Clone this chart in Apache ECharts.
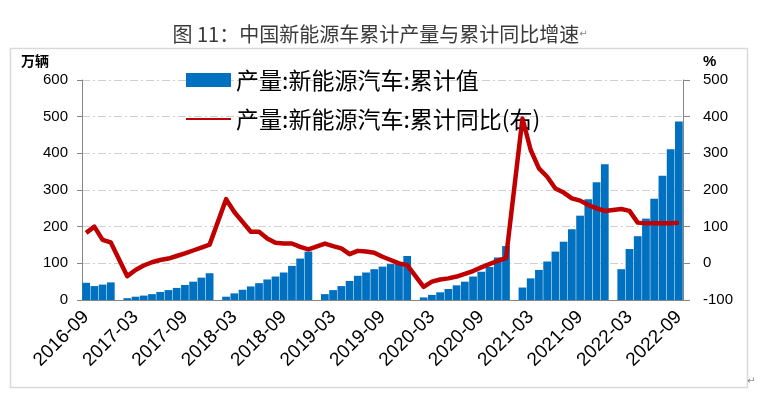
<!DOCTYPE html>
<html>
<head>
<meta charset="utf-8">
<script src="https://cdn.jsdelivr.net/npm/echarts@6.0.0/dist/echarts.min.js"></script>
<style>
  body { margin: 0; background: #fff; }
  #myChart { width: 760px; height: 397px; }
</style>
</head>
<body>
<div id="myChart"></div>
<script>
// months, January has no data (Jan-Feb reported together)
var months = [
  '2016-09','2016-10','2016-11','2016-12',
  '2017-01','2017-02','2017-03','2017-04','2017-05','2017-06','2017-07','2017-08','2017-09','2017-10','2017-11','2017-12',
  '2018-01','2018-02','2018-03','2018-04','2018-05','2018-06','2018-07','2018-08','2018-09','2018-10','2018-11','2018-12',
  '2019-01','2019-02','2019-03','2019-04','2019-05','2019-06','2019-07','2019-08','2019-09','2019-10','2019-11','2019-12',
  '2020-01','2020-02','2020-03','2020-04','2020-05','2020-06','2020-07','2020-08','2020-09','2020-10','2020-11','2020-12',
  '2021-01','2021-02','2021-03','2021-04','2021-05','2021-06','2021-07','2021-08','2021-09','2021-10','2021-11','2021-12',
  '2022-01','2022-02','2022-03','2022-04','2022-05','2022-06','2022-07','2022-08','2022-09'
];

// 产量:新能源汽车:累计值 (万辆)
var output = [
  47, 38, 42, 48,
  null, 5, 9, 12, 16, 22, 27, 33, 41, 50, 61, 73,
  null, 9, 18, 28, 37, 46, 56, 64, 75, 93, 113, 132,
  null, 16, 27, 38, 52, 66, 75, 84, 91, 98, 103, 120,
  null, 7, 14, 21, 30, 40, 50, 64, 77, 90, 116, 147,
  null, 34, 59, 82, 105, 132, 159, 193, 230, 275, 321, 370,
  null, 84, 139, 174, 222, 276, 339, 411, 487
];

// 产量:新能源汽车:累计同比 (%)
var yoy = [
  83, 100, 64, 57,
  null, -35, -18, -6, 3, 9, 13, 20, 27, 35, 43, 51,
  null, 175, 140, 113, 86, 86, 68, 56, 54, 54, 45, 38,
  null, 54, 47, 41, 25, 34, 32, 29, 18, 9, 0, -5,
  null, -64, -50, -44, -41, -36, -29, -21, -11, -2, 7, 14,
  null, 395, 309, 259, 236, 204, 193, 177, 171, 159, 150, 143,
  null, 148, 143, 111, 109, 109, 109, 109, 111
];

var gridLine = { color: '#d0d0d0', width: 1, type: [8, 3, 2, 3] };
var axisGray = '#868686';

var options = {
  backgroundColor: '#fff',
  animation: false,
  title: {
    text: '图 11：中国新能源车累计产量与累计同比增速{r|↵}',
    left: 'center',
    top: 19,
    textStyle: {
      fontFamily: 'Noto Sans CJK SC',
      fontSize: 20,
      fontWeight: 'normal',
      color: '#3a3a3a',
      rich: { r: { fontSize: 10, color: '#888', fontFamily: 'DejaVu Sans' } }
    }
  },
  graphic: [
    { type: 'rect', left: 8, top: 46, shape: { width: 737, height: 339 },
      style: { fill: 'none', stroke: '#d9d9d9', lineWidth: 1.5 } },
    { type: 'text', left: 21, top: 54,
      style: { text: '万辆', font: 'bold 14px "Noto Sans CJK SC"', fill: '#000' } },
    { type: 'text', left: 703, top: 54,
      style: { text: '%', font: 'bold 15px "Liberation Sans"', fill: '#000' } },
    { type: 'text', left: 747, top: 376,
      style: { text: '↵', font: '10px "DejaVu Sans"', fill: '#888' } }
  ],
  legend: {
    orient: 'vertical',
    left: 185,
    top: 67,
    padding: 0,
    itemWidth: 45,
    itemHeight: 14,
    itemGap: 13,
    textStyle: {
      fontFamily: 'Noto Sans CJK SC',
      fontSize: 23,
      lineHeight: 26,
      color: '#000'
    },
    data: [
      { name: '产量:新能源汽车:累计值', icon: 'rect' },
      { name: '产量:新能源汽车:累计同比(右)', itemStyle: { opacity: 0 } }
    ]
  },
  grid: { left: 82, right: 77, top: 80, bottom: 97, containLabel: false },
  xAxis: {
    type: 'category',
    data: months,
    boundaryGap: true,
    axisLine: { lineStyle: { color: axisGray } },
    axisTick: { interval: 5, length: 5, lineStyle: { color: axisGray } },
    axisLabel: {
      interval: 5,
      rotate: 45,
      margin: 14,
      fontFamily: 'Liberation Sans',
      fontSize: 19,
      color: '#000'
    }
  },
  yAxis: [
    {
      type: 'value',
      min: 0, max: 600, interval: 100,
      axisLine: { show: true, lineStyle: { color: axisGray } },
      axisTick: { show: true, length: 5, lineStyle: { color: axisGray } },
      axisLabel: { margin: 14, fontFamily: 'Liberation Sans', fontSize: 15, color: '#000' },
      splitLine: { lineStyle: gridLine }
    },
    {
      type: 'value',
      min: -100, max: 500, interval: 100,
      axisLine: { show: true, lineStyle: { color: axisGray } },
      axisTick: { show: true, length: 7, lineStyle: { color: axisGray } },
      axisLabel: { margin: 20, fontFamily: 'Liberation Sans', fontSize: 15, color: '#000' },
      splitLine: { show: false }
    }
  ],
  series: [
    {
      name: '产量:新能源汽车:累计值',
      type: 'bar',
      data: output,
      barCategoryGap: '6%',
      itemStyle: { color: '#0070c0' }
    },
    {
      name: '产量:新能源汽车:累计同比(右)',
      type: 'line',
      yAxisIndex: 1,
      data: yoy,
      connectNulls: true,
      symbol: 'none',
      lineStyle: { color: '#c00000', width: 4.5, join: 'round' },
      itemStyle: { color: '#c00000' },
      z: 5
    }
  ]
};

var myChart = echarts.init(document.getElementById('myChart'));
myChart.setOption(options);
</script>
</body>
</html>
